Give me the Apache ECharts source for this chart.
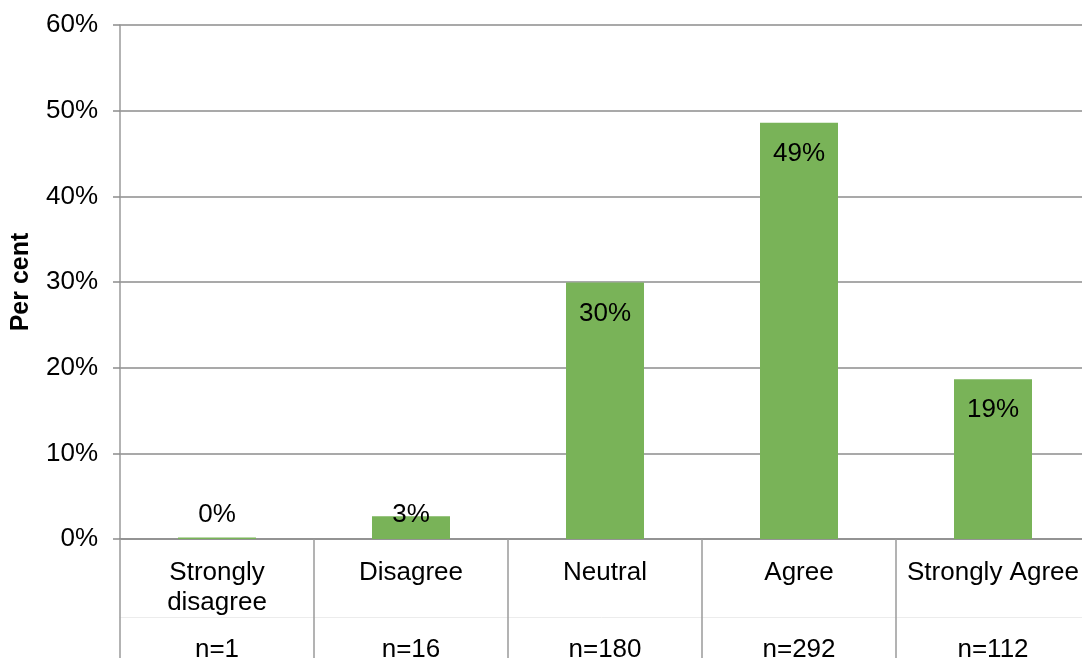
<!DOCTYPE html>
<html lang="en">
<head>
    <meta charset="UTF-8">
    <title>Per cent</title>
    <script src="https://cdn.jsdelivr.net/npm/echarts@6.0.0/dist/echarts.min.js"></script>
    <style>
        html, body { margin: 0; padding: 0; background: #fff; }
        #chart { width: 1082px; height: 658px; }
    </style>
</head>
<body>
    <div id="chart"></div>
<script>
    var categories = ['Strongly\ndisagree', 'Disagree', 'Neutral', 'Agree', 'Strongly Agree']
    var nLabels = ['n=1', 'n=16', 'n=180', 'n=292', 'n=112']
    var percents = [0.17, 2.66, 29.95, 48.59, 18.64]
    var yTicks = [0, 10, 20, 30, 40, 50, 60]

    var font = 'Liberation Sans, Arial, sans-serif'
    var green = '#79b358'

    // small bars get their label sitting just above the axis
    var barData = percents.map(function (v) {
        if (v < 5) {
            return { value: v, label: { position: 'insideBottom', distance: 11 } }
        }
        return v
    })

    var myChart = echarts.init(document.getElementById('chart'))
    var option = {
        animation: false,
        textStyle: { fontFamily: font },
        grid: { left: 120, top: 25, bottom: 119, right: -8, outerBoundsMode: 'none', containLabel: false },
        xAxis: [
            {
                type: 'category',
                data: categories,
                position: 'bottom',
                axisLine: { lineStyle: { color: '#8c8c8c', width: 1.5 } },
                axisTick: { show: true, length: 125, interval: 0, lineStyle: { color: '#9a9a9a', width: 1.5 } },
                axisLabel: { interval: 0, fontSize: 26, lineHeight: 30, color: '#000', margin: 19, fontFamily: font }
            },
            {
                type: 'category',
                data: nLabels,
                position: 'bottom',
                offset: 78,
                axisLine: { show: true, lineStyle: { color: '#ececec', width: 1 } },
                axisTick: { show: false },
                axisLabel: { interval: 0, fontSize: 26, color: '#000', margin: 20, fontFamily: font }
            }
        ],
        yAxis: {
            type: 'value',
            min: yTicks[0],
            max: yTicks[yTicks.length - 1],
            interval: 10,
            name: 'Per cent',
            nameLocation: 'middle',
            nameGap: 86,
            nameRotate: 90,
            nameTextStyle: { fontSize: 25, fontWeight: 'bold', color: '#000', fontFamily: font },
            axisLine: { show: true, lineStyle: { color: '#9a9a9a', width: 1.5 } },
            axisTick: { show: true, length: 7, lineStyle: { color: '#8c8c8c', width: 1.5 } },
            axisLabel: { formatter: '{value}%', fontSize: 26, color: '#000', margin: 22, fontFamily: font },
            splitLine: { show: true, lineStyle: { color: '#8c8c8c', width: 1.5 } }
        },
        series: [
            {
                type: 'bar',
                xAxisIndex: 0,
                data: barData,
                barWidth: 78,
                itemStyle: { color: green },
                label: {
                    show: true,
                    position: 'insideTop',
                    distance: 18,
                    fontSize: 26,
                    color: '#000',
                    fontFamily: font,
                    formatter: function (p) { return Math.round(p.value) + '%' }
                }
            }
        ]
    }
    myChart.setOption(option)
</script>
</body>
</html>
